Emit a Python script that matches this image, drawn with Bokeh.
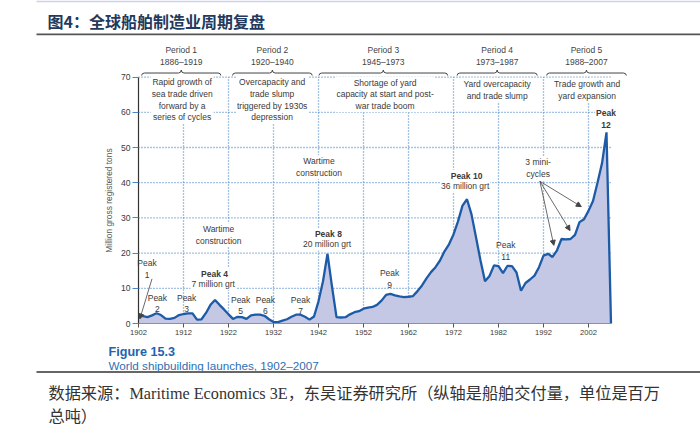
from bokeh.plotting import figure
from bokeh.models import (Range1d, FixedTicker, LinearAxis, Label, Arrow, NormalHead,
                          ColumnDataSource)
from bokeh.embed import file_html
from bokeh.resources import INLINE

# ---------------- data ----------------
years = list(range(1902, 2008))
launches = [
    2.4, 2.1, 1.8, 2.3, 2.9, 2.4, 1.4, 1.3, 1.6, 2.4,        # 1902-1911
    2.7, 2.9, 2.9, 1.1, 1.2, 3.0, 5.3, 6.7, 5.3, 4.0,        # 1912-1921
    2.6, 1.3, 1.9, 1.8, 1.3, 2.3, 2.5, 2.5, 2.2, 1.2,        # 1922-1931
    0.4, 0.4, 0.8, 1.2, 1.9, 2.5, 2.5, 1.9, 1.1, 2.0,        # 1932-1941
    6.3, 12.0, 19.8, 10.5, 1.8, 1.7, 1.8, 2.6, 3.2, 3.5,     # 1942-1951
    4.2, 4.5, 4.7, 5.3, 6.5, 8.1, 8.4, 8.0, 7.7, 7.5,        # 1952-1961
    7.6, 7.8, 9.2, 10.8, 12.8, 14.6, 16.0, 17.9, 20.5, 22.5, # 1962-1971
    25.3, 29.0, 33.5, 35.3, 31.0, 24.5, 17.9, 12.0, 13.5, 16.5,  # 1972-1981
    16.3, 14.3, 16.4, 16.3, 14.5, 9.3, 11.5, 12.5, 13.6, 16.0,   # 1982-1991
    19.3, 19.8, 18.9, 20.8, 24.0, 23.9, 24.0, 25.2, 28.8, 29.6,  # 1992-2001
    32.0, 34.8, 40.0, 45.5, 54.3, 0.0,                            # 2002-2007
]

x_ticks = list(range(1902, 2003, 10))
y_ticks = list(range(0, 71, 10))

period_names = ["Period 1", "Period 2", "Period 3", "Period 4", "Period 5"]
period_years = ["1886–1919", "1920–1940", "1945–1973", "1973–1987", "1988–2007"]
period_desc = [
    "Rapid growth of\nsea trade driven\nforward by a\nseries of cycles",
    "Overcapacity and\ntrade slump\ntriggered by 1930s\ndepression",
    "Shortage of yard\ncapacity at start and post-\nwar trade boom",
    "Yard overcapacity\nand trade slump",
    "Trade growth and\nyard expansion",
]
brace_from = [1902.7, 1922.9, 1942.1, 1972.8, 1992.7]
brace_to = [1920.3, 1940.6, 1970.7, 1990.6, 2010.4]

peak_small = ["Peak\n1", "Peak\n2", "Peak\n3", "Peak\n5", "Peak\n6", "Peak\n7", "Peak\n9", "Peak\n11"]
peak_small_x = [1903.9, 1906.2, 1912.7, 1924.7, 1930.2, 1938.0, 1957.8, 1983.6]
peak_small_y = [15.5, 5.7, 5.7, 5.1, 5.1, 5.1, 12.7, 20.7]

peak_big = ["Peak 4", "Peak 8", "Peak 10"]
peak_big_sub = ["7 million grt", "20 million grt", "36 million grt"]
peak_big_x = [1918.9, 1944.2, 1974.9]
peak_big_y = [14.1, 25.3, 42.0]

title_text = "图4：全球船舶制造业周期复盘"
fig_no = "Figure 15.3"
fig_caption = "World shipbuilding launches, 1902–2007"
source_lines = ["数据来源：Maritime Economics 3E，东吴证券研究所（纵轴是船舶交付量，单位是百万",
                "总吨）"]

# ---------------- layout ----------------
W, H = 700, 434
AX_PX, AX_PY = 138, 323          # where 1902 / 0 sit on the page
PX_YR, PX_UNIT = 4.5, 3.52


def X(px):  # page pixel -> data x
    return 1902 + (px - AX_PX) / PX_YR


def Y(py):  # page pixel -> data y
    return (AX_PY - py) / PX_UNIT


FONT = "Liberation Sans"
TXT = "#3a3a3a"

p = figure(width=W, height=H, x_range=Range1d(X(0), X(W)), y_range=Range1d(Y(H), Y(0)),
           output_backend="svg", toolbar_location=None,
           x_axis_type=None, y_axis_type=None,
           min_border_left=0, min_border_right=0, min_border_top=0, min_border_bottom=0)
p.outline_line_color = None
p.background_fill_color = "white"
p.border_fill_color = "white"

xa = LinearAxis(ticker=FixedTicker(ticks=x_ticks), bounds=(1902, 2007), fixed_location=0)
xa.axis_line_color = "#8090c0"
xa.major_tick_line_color = "#555555"
xa.major_tick_out = 4
xa.major_tick_in = 0
xa.minor_tick_line_color = None
xa.major_label_standoff = 2
xa.major_label_text_font = FONT
xa.major_label_text_font_size = "7.6px"
xa.major_label_text_color = TXT
p.add_layout(xa, "below")

ya = LinearAxis(ticker=FixedTicker(ticks=y_ticks), bounds=(0, 70), fixed_location=1902)
ya.axis_line_color = "#333333"
ya.axis_line_width = 1.2
ya.major_tick_line_color = "#4a86c8"
ya.major_tick_out = 6
ya.major_tick_in = 0
ya.minor_tick_line_color = None
ya.major_label_standoff = 2
ya.major_label_text_font = FONT
ya.major_label_text_font_size = "8.6px"
ya.major_label_text_color = TXT
ya.axis_label = "Million gross registered tons"
ya.axis_label_text_font = FONT
ya.axis_label_text_font_size = "8.4px"
ya.axis_label_text_font_style = "normal"
ya.axis_label_text_color = "#555555"
ya.axis_label_standoff = 4
p.add_layout(ya, "left")

GRID = dict(line_color="#4a86c8", line_width=1.3, line_dash="1 2")
p.segment(x0=x_ticks[1:], y0=0, x1=x_ticks[1:], y1=70, **GRID)
p.segment(x0=1902, y0=y_ticks[1:], x1=2007, y1=y_ticks[1:], **GRID)

src = ColumnDataSource(dict(year=years, val=launches))
p.varea(x="year", y1=0, y2="val", source=src, fill_color="#c4c8e4")
p.line(x="year", y="val", source=src, line_color="#1d5ba6", line_width=2.3)

bx, by = [], []
for a, b in zip(brace_from, brace_to):
    c = (a + b) / 2
    bx.append([a, a + 0.15, a + 0.6, c - 0.6, c - 0.15, c, c + 0.15, c + 0.6, b - 0.6, b - 0.15, b])
    by.append([70.45, 70.95, 71.16, 71.16, 71.4, 72.0, 71.4, 71.16, 71.16, 70.95, 70.45])
p.multi_line(xs=bx, ys=by, line_color="#444444", line_width=1)


def lab(text, x, y, size="8.5px", bold=False, align="center", color=TXT, bg=True,
        font=FONT, baseline="middle"):
    p.add_layout(Label(x=x, y=y, text=text, text_align=align, text_baseline=baseline,
                       text_font=font, text_font_size=size, text_color=color,
                       text_font_style="bold" if bold else "normal",
                       text_line_height=1.18,
                       background_fill_color="white" if bg else None,
                       padding=1))


desc_y = [63.6, 63.6, 65.1, 66.4, 66.4]
desc_x = [1911.7, 1931.7, 1956.8, 1981.7, 2001.7]
for i in range(5):
    c = (brace_from[i] + brace_to[i]) / 2
    lab(period_names[i] + "\n" + period_years[i], c, 76.0, color="#444444", bg=False)
    lab(period_desc[i], desc_x[i], desc_y[i])

lab("Wartime\nconstruction", 1919.8, 25.1)
lab("Wartime\nconstruction", 1942.1, 44.4)

for t, x, y in zip(peak_small, peak_small_x, peak_small_y):
    lab(t, x, y, bg=False)
for t, s, x, y in zip(peak_big, peak_big_sub, peak_big_x, peak_big_y):
    lab(t, x, y, bold=True)
    lab(s, x - 0.3, y - 2.85)
lab("Peak\n12", 2005.9, 58.0, bold=True)
lab("3 mini-\ncycles", 1990.8, 44.1)

arr = ColumnDataSource(dict(
    xs=[1905.0, 1991.2, 1991.2, 1991.2],
    ys=[12.7, 40.4, 40.4, 40.4],
    xe=[1902.3, 1994.3, 1997.9, 2000.4],
    ye=[1.3, 22.2, 26.4, 33.2],
))
p.add_layout(Arrow(source=arr, x_start="xs", y_start="ys", x_end="xe", y_end="ye",
                   line_color="#444444", line_width=0.8,
                   end=NormalHead(size=5, fill_color="#444444", line_color="#444444")))

# ---------- page decorations: title, caption, source ----------
p.segment(x0=X(36), y0=Y(0.8), x1=X(700), y1=Y(0.8), line_color="#cdd0f4", line_width=1.8)
lab(title_text, X(46), Y(20), size="16px", bold=True, align="left", color="#23395d",
    bg=False, font="Noto Sans CJK SC")
p.segment(x0=X(36), y0=Y(33.8), x1=X(700), y1=Y(33.8), line_color="#555555", line_width=1.8)
lab(fig_no, X(107), Y(351), size="12.6px", bold=True, align="left", color="#2164ad", bg=False)
lab(fig_caption, X(107), Y(365), size="11.7px", align="left", color="#2f6fb6", bg=False)
p.segment(x0=X(36), y0=Y(371.5), x1=X(700), y1=Y(371.5), line_color="#333333", line_width=1.6)
SRC_FONT = "'Liberation Serif', 'Noto Sans CJK SC'"
lab(source_lines[0], X(47), Y(393), size="16.2px", align="left", color="#333333", bg=False,
    font=SRC_FONT)
lab(source_lines[1], X(47), Y(416), size="16.2px", align="left", color="#333333", bg=False,
    font=SRC_FONT)

open("out.html", "w").write(file_html(p, INLINE))
